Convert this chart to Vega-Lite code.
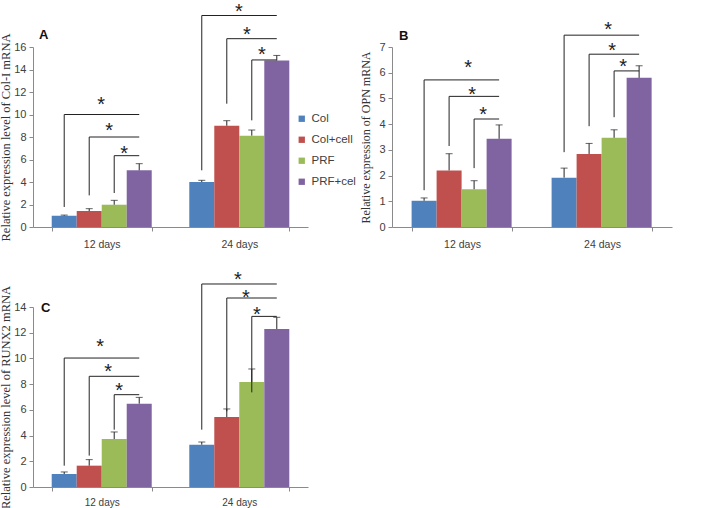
{
  "$schema": "https://vega.github.io/schema/vega-lite/v6.json",
  "autosize": {"type": "none"},
  "padding": {"left": 33, "top": 47, "right": 676, "bottom": 461},
  "background": "white",
  "config": {
    "view": {"stroke": null},
    "font": "Liberation Sans",
    "axis": {"grid": false, "domainColor": "#8a8a8a", "tickColor": "#8a8a8a", "labelColor": "#404040", "labelFont": "Liberation Sans", "labelFontSize": 11, "labelOverlap": false, "titleFont": "Liberation Serif", "titleFontWeight": "normal", "titleFontSize": 12, "titleColor": "#333333"},
    "legend": {"labelFont": "Liberation Sans", "labelFontSize": 11.5, "labelColor": "#404040", "symbolType": "square", "symbolSize": 40, "symbolStrokeWidth": 0, "rowPadding": 8, "padding": 0, "labelOffset": 4}
  },
  "datasets": {
    "barsA": [
      {"day": "12 days", "group": "Col", "value": 1.0, "hi": 1.06},
      {"day": "12 days", "group": "Col+cell", "value": 1.42, "hi": 1.63},
      {"day": "12 days", "group": "PRF", "value": 1.98, "hi": 2.37},
      {"day": "12 days", "group": "PRF+cell", "value": 5.04, "hi": 5.63},
      {"day": "24 days", "group": "Col", "value": 4.0, "hi": 4.15},
      {"day": "24 days", "group": "Col+cell", "value": 9.0, "hi": 9.45},
      {"day": "24 days", "group": "PRF", "value": 8.12, "hi": 8.62},
      {"day": "24 days", "group": "PRF+cell", "value": 14.8, "hi": 15.25}
    ],
    "brA": [
      {"id": "a1", "day": "12 days", "group": "Col", "y": 1.78, "k": 1},
      {"id": "a1", "day": "12 days", "group": "Col", "y": 10.0, "k": 2},
      {"id": "a1", "day": "12 days", "group": "PRF+cell", "y": 10.0, "k": 3},
      {"id": "a2", "day": "12 days", "group": "Col+cell", "y": 2.81, "k": 1},
      {"id": "a2", "day": "12 days", "group": "Col+cell", "y": 8.0, "k": 2},
      {"id": "a2", "day": "12 days", "group": "PRF+cell", "y": 8.0, "k": 3},
      {"id": "a3", "day": "12 days", "group": "PRF", "y": 3.02, "k": 1},
      {"id": "a3", "day": "12 days", "group": "PRF", "y": 6.34, "k": 2},
      {"id": "a3", "day": "12 days", "group": "PRF+cell", "y": 6.34, "k": 3},
      {"id": "a4", "day": "24 days", "group": "Col", "y": 5.04, "k": 1},
      {"id": "a4", "day": "24 days", "group": "Col", "y": 18.8, "k": 2},
      {"id": "a4", "day": "24 days", "group": "PRF+cell", "y": 18.8, "k": 3},
      {"id": "a5", "day": "24 days", "group": "Col+cell", "y": 10.96, "k": 1},
      {"id": "a5", "day": "24 days", "group": "Col+cell", "y": 16.74, "k": 2},
      {"id": "a5", "day": "24 days", "group": "PRF+cell", "y": 16.74, "k": 3},
      {"id": "a6", "day": "24 days", "group": "PRF", "y": 9.48, "k": 1},
      {"id": "a6", "day": "24 days", "group": "PRF", "y": 14.85, "k": 2},
      {"id": "a6", "day": "24 days", "group": "PRF+cell", "y": 14.85, "k": 3}
    ],
    "starsA": [
      {"day": "12 days", "level": "outer", "group": "Col", "y": 11.3},
      {"day": "12 days", "level": "middle", "group": "Col+cell", "y": 8.95},
      {"day": "12 days", "level": "inner", "group": "PRF", "y": 6.96},
      {"day": "24 days", "level": "outer", "group": "Col", "y": 19.6},
      {"day": "24 days", "level": "middle", "group": "Col+cell", "y": 17.5},
      {"day": "24 days", "level": "inner", "group": "PRF", "y": 15.7}
    ],
    "barsB": [
      {"day": "12 days", "group": "Col", "value": 1.02, "hi": 1.13},
      {"day": "12 days", "group": "Col+cell", "value": 2.2, "hi": 2.85},
      {"day": "12 days", "group": "PRF", "value": 1.47, "hi": 1.8},
      {"day": "12 days", "group": "PRF+cell", "value": 3.43, "hi": 3.97},
      {"day": "24 days", "group": "Col", "value": 1.92, "hi": 2.29},
      {"day": "24 days", "group": "Col+cell", "value": 2.84, "hi": 3.25},
      {"day": "24 days", "group": "PRF", "value": 3.47, "hi": 3.78},
      {"day": "24 days", "group": "PRF+cell", "value": 5.8, "hi": 6.27}
    ],
    "brB": [
      {"id": "b1", "day": "12 days", "group": "Col", "y": 1.43, "k": 1},
      {"id": "b1", "day": "12 days", "group": "Col", "y": 5.72, "k": 2},
      {"id": "b1", "day": "12 days", "group": "PRF+cell", "y": 5.72, "k": 3},
      {"id": "b2", "day": "12 days", "group": "Col+cell", "y": 3.15, "k": 1},
      {"id": "b2", "day": "12 days", "group": "Col+cell", "y": 5.08, "k": 2},
      {"id": "b2", "day": "12 days", "group": "PRF+cell", "y": 5.08, "k": 3},
      {"id": "b3", "day": "12 days", "group": "PRF", "y": 2.29, "k": 1},
      {"id": "b3", "day": "12 days", "group": "PRF", "y": 4.2, "k": 2},
      {"id": "b3", "day": "12 days", "group": "PRF+cell", "y": 4.2, "k": 3},
      {"id": "b4", "day": "24 days", "group": "Col", "y": 2.91, "k": 1},
      {"id": "b4", "day": "24 days", "group": "Col", "y": 7.46, "k": 2},
      {"id": "b4", "day": "24 days", "group": "PRF+cell", "y": 7.46, "k": 3},
      {"id": "b5", "day": "24 days", "group": "Col+cell", "y": 3.92, "k": 1},
      {"id": "b5", "day": "24 days", "group": "Col+cell", "y": 6.72, "k": 2},
      {"id": "b5", "day": "24 days", "group": "PRF+cell", "y": 6.72, "k": 3},
      {"id": "b6", "day": "24 days", "group": "PRF", "y": 4.27, "k": 1},
      {"id": "b6", "day": "24 days", "group": "PRF", "y": 6.07, "k": 2},
      {"id": "b6", "day": "24 days", "group": "PRF+cell", "y": 6.07, "k": 3}
    ],
    "starsB": [
      {"day": "12 days", "level": "outer", "group": "Col", "y": 6.39},
      {"day": "12 days", "level": "middle", "group": "Col+cell", "y": 5.34},
      {"day": "12 days", "level": "inner", "group": "PRF", "y": 4.56},
      {"day": "24 days", "level": "outer", "group": "Col", "y": 7.85},
      {"day": "24 days", "level": "middle", "group": "Col+cell", "y": 7.04},
      {"day": "24 days", "level": "inner", "group": "PRF", "y": 6.42}
    ],
    "barsC": [
      {"day": "12 days", "group": "Col", "value": 1.01, "hi": 1.17},
      {"day": "12 days", "group": "Col+cell", "value": 1.66, "hi": 2.13},
      {"day": "12 days", "group": "PRF", "value": 3.73, "hi": 4.28},
      {"day": "12 days", "group": "PRF+cell", "value": 6.48, "hi": 6.97},
      {"day": "24 days", "group": "Col", "value": 3.29, "hi": 3.5},
      {"day": "24 days", "group": "Col+cell", "value": 5.44, "hi": 6.07},
      {"day": "24 days", "group": "PRF", "value": 8.17, "hi": 9.18},
      {"day": "24 days", "group": "PRF+cell", "value": 12.29, "hi": 13.2}
    ],
    "brC": [
      {"id": "c1", "day": "12 days", "group": "Col", "y": 1.66, "k": 1},
      {"id": "c1", "day": "12 days", "group": "Col", "y": 10.03, "k": 2},
      {"id": "c1", "day": "12 days", "group": "PRF+cell", "y": 10.03, "k": 3},
      {"id": "c2", "day": "12 days", "group": "Col+cell", "y": 2.44, "k": 1},
      {"id": "c2", "day": "12 days", "group": "Col+cell", "y": 8.61, "k": 2},
      {"id": "c2", "day": "12 days", "group": "PRF+cell", "y": 8.61, "k": 3},
      {"id": "c3", "day": "12 days", "group": "PRF", "y": 4.46, "k": 1},
      {"id": "c3", "day": "12 days", "group": "PRF", "y": 7.18, "k": 2},
      {"id": "c3", "day": "12 days", "group": "PRF+cell", "y": 7.18, "k": 3},
      {"id": "c4", "day": "24 days", "group": "Col", "y": 4.46, "k": 1},
      {"id": "c4", "day": "24 days", "group": "Col", "y": 15.79, "k": 2},
      {"id": "c4", "day": "24 days", "group": "PRF+cell", "y": 15.79, "k": 3},
      {"id": "c5", "day": "24 days", "group": "Col+cell", "y": 5.89, "k": 1},
      {"id": "c5", "day": "24 days", "group": "Col+cell", "y": 14.7, "k": 2},
      {"id": "c5", "day": "24 days", "group": "PRF+cell", "y": 14.7, "k": 3},
      {"id": "c6", "day": "24 days", "group": "PRF", "y": 7.36, "k": 1},
      {"id": "c6", "day": "24 days", "group": "PRF", "y": 13.27, "k": 2},
      {"id": "c6", "day": "24 days", "group": "PRF+cell", "y": 13.27, "k": 3}
    ],
    "starsC": [
      {"day": "12 days", "level": "outer", "group": "Col", "y": 11.25},
      {"day": "12 days", "level": "middle", "group": "Col+cell", "y": 9.33},
      {"day": "12 days", "level": "inner", "group": "PRF", "y": 7.83},
      {"day": "24 days", "level": "outer", "group": "Col", "y": 16.5},
      {"day": "24 days", "level": "middle", "group": "Col+cell", "y": 15.09},
      {"day": "24 days", "level": "inner", "group": "PRF", "y": 13.79}
    ]
  },
  "columns": 2,
  "bounds": "flush",
  "spacing": {"row": 80, "column": 84},
  "concat": [
    {
      "width": 275, "height": 180,
      "title": {"text": "A", "anchor": "start", "frame": "group", "fontSize": 13, "fontWeight": "bold", "font": "Liberation Sans", "color": "#111111", "dx": 6, "dy": 44},
      "encoding": {
        "x": {"field": "day", "type": "nominal", "scale": {"paddingInner": 0.273, "paddingOuter": 0.136}, "axis": {"title": null, "labelAngle": 0, "tickBand": "extent", "tickSize": 4, "labelPadding": 8, "labelFontSize": 10.5}},
        "xOffset": {"field": "group", "type": "nominal", "scale": {"domain": ["Col", "Col+cell", "PRF", "PRF+cell"], "paddingInner": 0, "paddingOuter": 0}}
      },
      "layer": [
        {"data": {"name": "barsA"}, "mark": {"type": "bar"},
         "encoding": {
           "y": {"field": "value", "type": "quantitative", "scale": {"domain": [0, 16]}, "axis": {"title": "Relative expression level of Col-I mRNA", "titleFontSize": 12.5, "values": [0, 2, 4, 6, 8, 10, 12, 14, 16], "tickSize": 4, "labelPadding": 3, "titlePadding": 1}},
           "color": {"field": "group", "type": "nominal", "scale": {"domain": ["Col", "Col+cell", "PRF", "PRF+cell"], "range": ["#4f81bd", "#c0504d", "#9bbb59", "#8064a2"]}, "legend": {"title": null, "orient": "none", "legendX": 263, "legendY": 66}}
         }},
        {"data": {"name": "barsA"}, "mark": {"type": "rule", "color": "#222222", "strokeWidth": 1}, "encoding": {"y": {"field": "value", "type": "quantitative", "axis": {"title": "Relative expression level of Col-I mRNA", "titleFontSize": 12.5, "values": [0, 2, 4, 6, 8, 10, 12, 14, 16], "tickSize": 4, "labelPadding": 3, "titlePadding": 1}}, "y2": {"field": "hi"}}},
        {"data": {"name": "barsA"}, "mark": {"type": "tick", "color": "#222222", "thickness": 1, "size": 7}, "encoding": {"y": {"field": "hi", "type": "quantitative", "axis": {"title": "Relative expression level of Col-I mRNA", "titleFontSize": 12.5, "values": [0, 2, 4, 6, 8, 10, 12, 14, 16], "tickSize": 4, "labelPadding": 3, "titlePadding": 1}}}},
        {"data": {"name": "brA"}, "mark": {"type": "line", "color": "#222222", "strokeWidth": 1}, "encoding": {"y": {"field": "y", "type": "quantitative", "axis": {"title": "Relative expression level of Col-I mRNA", "titleFontSize": 12.5, "values": [0, 2, 4, 6, 8, 10, 12, 14, 16], "tickSize": 4, "labelPadding": 3, "titlePadding": 1}}, "detail": {"field": "id"}, "order": {"field": "k"}}},
        {"data": {"name": "starsA"}, "transform": [{"filter": "datum.level == 'outer'"}], "mark": {"type": "text", "text": "*", "fontSize": 20, "color": "#222222", "dx": 37, "dy": 5, "baseline": "middle"}, "encoding": {"y": {"field": "y", "type": "quantitative", "axis": {"title": "Relative expression level of Col-I mRNA", "titleFontSize": 12.5, "values": [0, 2, 4, 6, 8, 10, 12, 14, 16], "tickSize": 4, "labelPadding": 3, "titlePadding": 1}}}},
        {"data": {"name": "starsA"}, "transform": [{"filter": "datum.level == 'middle'"}], "mark": {"type": "text", "text": "*", "fontSize": 20, "color": "#222222", "dx": 20, "dy": 5, "baseline": "middle"}, "encoding": {"y": {"field": "y", "type": "quantitative", "axis": {"title": "Relative expression level of Col-I mRNA", "titleFontSize": 12.5, "values": [0, 2, 4, 6, 8, 10, 12, 14, 16], "tickSize": 4, "labelPadding": 3, "titlePadding": 1}}}},
        {"data": {"name": "starsA"}, "transform": [{"filter": "datum.level == 'inner'"}], "mark": {"type": "text", "text": "*", "fontSize": 20, "color": "#222222", "dx": 10, "dy": 5, "baseline": "middle"}, "encoding": {"y": {"field": "y", "type": "quantitative", "axis": {"title": "Relative expression level of Col-I mRNA", "titleFontSize": 12.5, "values": [0, 2, 4, 6, 8, 10, 12, 14, 16], "tickSize": 4, "labelPadding": 3, "titlePadding": 1}}}}
      ]
    },
    {
      "width": 280, "height": 180,
      "title": {"text": "B", "anchor": "start", "frame": "group", "fontSize": 13, "fontWeight": "bold", "font": "Liberation Sans", "color": "#111111", "dx": 7, "dy": 27},
      "encoding": {
        "x": {"field": "day", "type": "nominal", "scale": {"paddingInner": 0.28, "paddingOuter": 0.14}, "axis": {"title": null, "labelAngle": 0, "tickBand": "extent", "tickSize": 4, "labelPadding": 8, "labelFontSize": 10.5}},
        "xOffset": {"field": "group", "type": "nominal", "scale": {"domain": ["Col", "Col+cell", "PRF", "PRF+cell"], "paddingInner": 0, "paddingOuter": 0}}
      },
      "layer": [
        {"data": {"name": "barsB"}, "mark": {"type": "bar"},
         "encoding": {
           "y": {"field": "value", "type": "quantitative", "scale": {"domain": [0, 7]}, "axis": {"title": "Relative expression of OPN mRNA", "values": [0, 1, 2, 3, 4, 5, 6, 7], "tickSize": 4, "labelPadding": 3, "titlePadding": 6}},
           "color": {"field": "group", "type": "nominal", "scale": {"domain": ["Col", "Col+cell", "PRF", "PRF+cell"], "range": ["#4f81bd", "#c0504d", "#9bbb59", "#8064a2"]}, "legend": {"title": null, "orient": "none", "legendX": 271, "legendY": 62}}
         }},
        {"data": {"name": "barsB"}, "mark": {"type": "rule", "color": "#222222", "strokeWidth": 1}, "encoding": {"y": {"field": "value", "type": "quantitative", "axis": {"title": "Relative expression of OPN mRNA", "values": [0, 1, 2, 3, 4, 5, 6, 7], "tickSize": 4, "labelPadding": 3, "titlePadding": 6}}, "y2": {"field": "hi"}}},
        {"data": {"name": "barsB"}, "mark": {"type": "tick", "color": "#222222", "thickness": 1, "size": 7}, "encoding": {"y": {"field": "hi", "type": "quantitative", "axis": {"title": "Relative expression of OPN mRNA", "values": [0, 1, 2, 3, 4, 5, 6, 7], "tickSize": 4, "labelPadding": 3, "titlePadding": 6}}}},
        {"data": {"name": "brB"}, "mark": {"type": "line", "color": "#222222", "strokeWidth": 1}, "encoding": {"y": {"field": "y", "type": "quantitative", "axis": {"title": "Relative expression of OPN mRNA", "values": [0, 1, 2, 3, 4, 5, 6, 7], "tickSize": 4, "labelPadding": 3, "titlePadding": 6}}, "detail": {"field": "id"}, "order": {"field": "k"}}},
        {"data": {"name": "starsB"}, "transform": [{"filter": "datum.level == 'outer'"}], "mark": {"type": "text", "text": "*", "fontSize": 20, "color": "#222222", "dx": 44, "dy": 5, "baseline": "middle"}, "encoding": {"y": {"field": "y", "type": "quantitative", "axis": {"title": "Relative expression of OPN mRNA", "values": [0, 1, 2, 3, 4, 5, 6, 7], "tickSize": 4, "labelPadding": 3, "titlePadding": 6}}}},
        {"data": {"name": "starsB"}, "transform": [{"filter": "datum.level == 'middle'"}], "mark": {"type": "text", "text": "*", "fontSize": 20, "color": "#222222", "dx": 23, "dy": 5, "baseline": "middle"}, "encoding": {"y": {"field": "y", "type": "quantitative", "axis": {"title": "Relative expression of OPN mRNA", "values": [0, 1, 2, 3, 4, 5, 6, 7], "tickSize": 4, "labelPadding": 3, "titlePadding": 6}}}},
        {"data": {"name": "starsB"}, "transform": [{"filter": "datum.level == 'inner'"}], "mark": {"type": "text", "text": "*", "fontSize": 20, "color": "#222222", "dx": 9, "dy": 5, "baseline": "middle"}, "encoding": {"y": {"field": "y", "type": "quantitative", "axis": {"title": "Relative expression of OPN mRNA", "values": [0, 1, 2, 3, 4, 5, 6, 7], "tickSize": 4, "labelPadding": 3, "titlePadding": 6}}}}
      ]
    },
    {
      "width": 275, "height": 180,
      "title": {"text": "C", "anchor": "start", "frame": "group", "fontSize": 13, "fontWeight": "bold", "font": "Liberation Sans", "color": "#111111", "dx": 8, "dy": 49},
      "encoding": {
        "x": {"field": "day", "type": "nominal", "scale": {"paddingInner": 0.273, "paddingOuter": 0.136}, "axis": {"title": null, "labelAngle": 0, "tickBand": "extent", "tickSize": 4, "labelPadding": 6, "labelFontSize": 10}},
        "xOffset": {"field": "group", "type": "nominal", "scale": {"domain": ["Col", "Col+cell", "PRF", "PRF+cell"], "paddingInner": 0, "paddingOuter": 0}}
      },
      "layer": [
        {"data": {"name": "barsC"}, "mark": {"type": "bar"},
         "encoding": {
           "y": {"field": "value", "type": "quantitative", "scale": {"domain": [0, 14]}, "axis": {"title": "Relative expression level of RUNX2 mRNA", "titleFontSize": 12.5, "values": [0, 2, 4, 6, 8, 10, 12, 14], "tickSize": 4, "labelPadding": 3, "titlePadding": 1}},
           "color": {"field": "group", "type": "nominal", "scale": {"domain": ["Col", "Col+cell", "PRF", "PRF+cell"], "range": ["#4f81bd", "#c0504d", "#9bbb59", "#8064a2"]}, "legend": {"title": null, "orient": "none", "legendX": 264, "legendY": 73, "labelExpr": "datum.label == 'PRF+cell' ? 'PRF+cel' : datum.label"}}
         }},
        {"data": {"name": "barsC"}, "mark": {"type": "rule", "color": "#222222", "strokeWidth": 1}, "encoding": {"y": {"field": "value", "type": "quantitative", "axis": {"title": "Relative expression level of RUNX2 mRNA", "titleFontSize": 12.5, "values": [0, 2, 4, 6, 8, 10, 12, 14], "tickSize": 4, "labelPadding": 3, "titlePadding": 1}}, "y2": {"field": "hi"}}},
        {"data": {"name": "barsC"}, "mark": {"type": "tick", "color": "#222222", "thickness": 1, "size": 7}, "encoding": {"y": {"field": "hi", "type": "quantitative", "axis": {"title": "Relative expression level of RUNX2 mRNA", "titleFontSize": 12.5, "values": [0, 2, 4, 6, 8, 10, 12, 14], "tickSize": 4, "labelPadding": 3, "titlePadding": 1}}}},
        {"data": {"name": "brC"}, "mark": {"type": "line", "color": "#222222", "strokeWidth": 1}, "encoding": {"y": {"field": "y", "type": "quantitative", "axis": {"title": "Relative expression level of RUNX2 mRNA", "titleFontSize": 12.5, "values": [0, 2, 4, 6, 8, 10, 12, 14], "tickSize": 4, "labelPadding": 3, "titlePadding": 1}}, "detail": {"field": "id"}, "order": {"field": "k"}}},
        {"data": {"name": "starsC"}, "transform": [{"filter": "datum.level == 'outer'"}], "mark": {"type": "text", "text": "*", "fontSize": 20, "color": "#222222", "dx": 36, "dy": 5, "baseline": "middle"}, "encoding": {"y": {"field": "y", "type": "quantitative", "axis": {"title": "Relative expression level of RUNX2 mRNA", "titleFontSize": 12.5, "values": [0, 2, 4, 6, 8, 10, 12, 14], "tickSize": 4, "labelPadding": 3, "titlePadding": 1}}}},
        {"data": {"name": "starsC"}, "transform": [{"filter": "datum.level == 'middle'"}], "mark": {"type": "text", "text": "*", "fontSize": 20, "color": "#222222", "dx": 19, "dy": 5, "baseline": "middle"}, "encoding": {"y": {"field": "y", "type": "quantitative", "axis": {"title": "Relative expression level of RUNX2 mRNA", "titleFontSize": 12.5, "values": [0, 2, 4, 6, 8, 10, 12, 14], "tickSize": 4, "labelPadding": 3, "titlePadding": 1}}}},
        {"data": {"name": "starsC"}, "transform": [{"filter": "datum.level == 'inner'"}], "mark": {"type": "text", "text": "*", "fontSize": 20, "color": "#222222", "dx": 5, "dy": 5, "baseline": "middle"}, "encoding": {"y": {"field": "y", "type": "quantitative", "axis": {"title": "Relative expression level of RUNX2 mRNA", "titleFontSize": 12.5, "values": [0, 2, 4, 6, 8, 10, 12, 14], "tickSize": 4, "labelPadding": 3, "titlePadding": 1}}}}
      ]
    }
  ]
}
